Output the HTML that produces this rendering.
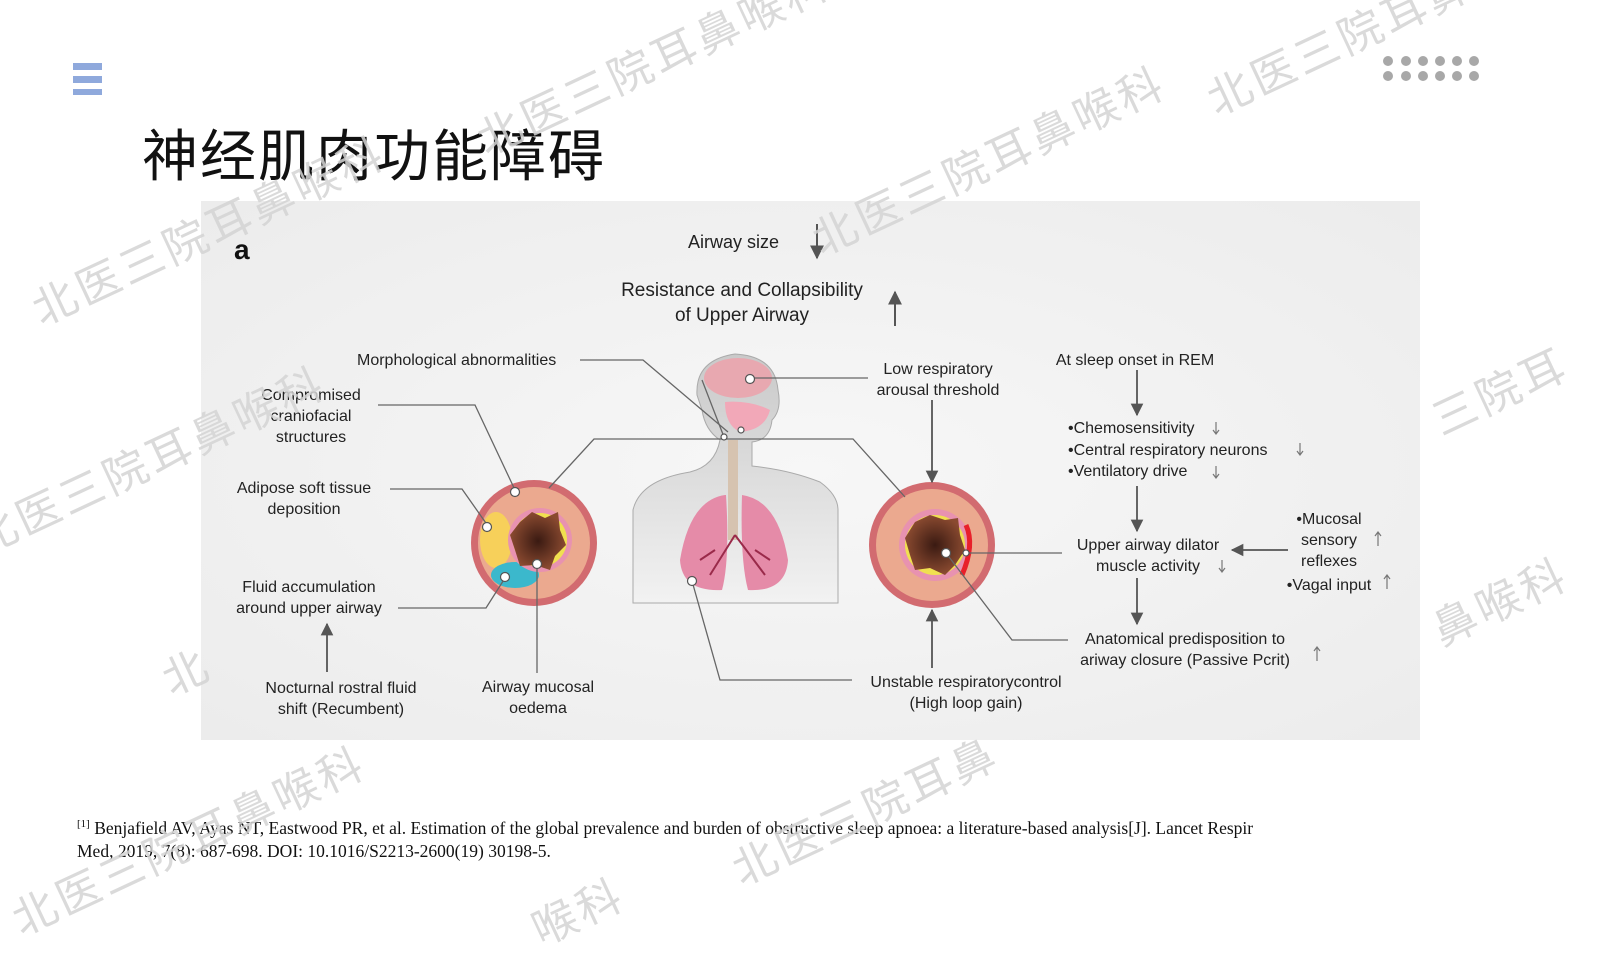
<!DOCTYPE html>
<html><head><meta charset="utf-8"><style>
html,body{margin:0;padding:0;width:1600px;height:900px;overflow:hidden;background:#fff;font-family:"Liberation Sans","Noto Sans CJK SC",sans-serif}
.wm{position:absolute;color:#d4d4d4;font-size:44px;transform:rotate(-25deg);transform-origin:left top;white-space:nowrap;font-family:"Noto Sans CJK SC",sans-serif;letter-spacing:4px;z-index:3;opacity:.85}
</style></head><body>
<div style="position:absolute;left:73px;top:63px;width:29px;height:7px;background:#8fa9dc"></div>
<div style="position:absolute;left:73px;top:76px;width:29px;height:7px;background:#8fa9dc"></div>
<div style="position:absolute;left:73px;top:89px;width:29px;height:6px;background:#8fa9dc"></div>
<svg style="position:absolute;left:1380px;top:55px" width="110" height="30">
<g fill="#a8a8a8">
<circle cx="8" cy="6" r="5"/><circle cx="26" cy="6" r="5"/><circle cx="43" cy="6" r="5"/><circle cx="60" cy="6" r="5"/><circle cx="77" cy="6" r="5"/><circle cx="94" cy="6" r="5"/>
<circle cx="8" cy="21" r="5"/><circle cx="26" cy="21" r="5"/><circle cx="43" cy="21" r="5"/><circle cx="60" cy="21" r="5"/><circle cx="77" cy="21" r="5"/><circle cx="94" cy="21" r="5"/>
</g></svg>
<div style="position:absolute;left:142px;top:112px;font-size:56px;color:#111;font-family:'Noto Sans CJK SC',sans-serif;letter-spacing:2px">神经肌肉功能障碍</div>

<svg style="position:absolute;left:0;top:0" width="1600" height="900" font-family="Liberation Sans, sans-serif" font-size="16" fill="#222">
<defs>
<radialGradient id="bg" cx="0.5" cy="0.5" r="0.7"><stop offset="0" stop-color="#f7f7f7"/><stop offset="1" stop-color="#ececec"/></radialGradient>
<radialGradient id="lum" cx="0.5" cy="0.5" r="0.5"><stop offset="0" stop-color="#3a1a12"/><stop offset="1" stop-color="#8a4a30"/></radialGradient>
<linearGradient id="body" x1="0" y1="0" x2="0" y2="1"><stop offset="0" stop-color="#c9c9c9"/><stop offset="1" stop-color="#f2f2f2"/></linearGradient>
<marker id="ar" viewBox="0 0 10 10" refX="9" refY="5" markerWidth="7" markerHeight="7" orient="auto"><path d="M0,0 L10,5 L0,10 z" fill="#555"/></marker>
</defs>
<rect x="201" y="201" width="1219" height="539" fill="url(#bg)"/>
<text x="234" y="259" font-size="28" font-weight="bold" fill="#111">a</text>
<text x="688" y="248" font-size="18">Airway size</text>
<line x1="817" y1="224" x2="817" y2="258" stroke="#555" stroke-width="2" marker-end="url(#ar)"/>
<text x="742" y="296" font-size="19" text-anchor="middle">Resistance and Collapsibility</text>
<text x="742" y="321" font-size="19" text-anchor="middle">of Upper Airway</text>
<line x1="895" y1="326" x2="895" y2="292" stroke="#555" stroke-width="2" marker-end="url(#ar)"/>

<path d="M633,603 L633,510 Q640,480 690,472 Q715,466 720,440 Q705,430 702,410 L697,395 Q695,360 735,354 Q775,356 778,390 Q782,410 772,420 Q770,440 752,442 L752,466 Q790,470 820,482 Q838,495 838,510 L838,603 Z" fill="url(#body)" stroke="#aaa"/>
<ellipse cx="738" cy="378" rx="34" ry="20" fill="#e8a8b0"/>
<path d="M725,402 Q750,400 770,410 Q765,430 740,432 Q725,425 725,402Z" fill="#f2a8b8"/>
<rect x="728" y="440" width="10" height="100" fill="#d6c3b0"/>
<path d="M725,495 Q690,500 680,560 Q682,592 722,590 Q730,560 726,495Z" fill="#e58ba8"/>
<path d="M742,495 Q778,500 788,560 Q786,592 748,590 Q740,560 742,495Z" fill="#e58ba8"/>
<path d="M735,535 L710,575 M735,535 L765,575 M715,550 L700,560 M755,550 L770,560" stroke="#9a2a4a" stroke-width="2"/>

<circle cx="534" cy="543" r="63" fill="#d26b70"/>
<circle cx="534" cy="543" r="56" fill="#eba98f"/>
<ellipse cx="496" cy="540" rx="16" ry="28" fill="#f7d05a"/>
<ellipse cx="515" cy="575" rx="24" ry="13" fill="#3bb8cc"/>
<circle cx="540" cy="540" r="32" fill="#e892b0"/>
<circle cx="540" cy="540" r="27" fill="#f0e050"/>
<path d="M520,522 L532,512 L545,518 L558,512 L560,530 L566,545 L555,556 L550,570 L535,565 L520,566 L515,550 L510,535Z" fill="url(#lum)"/>
<circle cx="932" cy="545" r="63" fill="#d26b70"/>
<circle cx="932" cy="545" r="56" fill="#eba98f"/>
<circle cx="935" cy="545" r="36" fill="#e892b0"/>
<circle cx="935" cy="545" r="30" fill="#f0e050"/>
<path d="M915,522 L930,515 L945,520 L958,518 L960,535 L965,550 L955,565 L945,575 L930,568 L915,570 L910,555 L905,538Z" fill="url(#lum)"/>
<path d="M966,525 Q975,545 962,575" stroke="#e8202a" stroke-width="5" fill="none"/>

<g stroke="#666" stroke-width="1.3" fill="none">
<polyline points="580,360 643,360 728,432"/>
<polyline points="378,405 475,405 515,490"/>
<polyline points="390,489 462,489 488,526"/>
<polyline points="398,608 486,608 505,578"/>
<line x1="537" y1="565" x2="537" y2="673"/>
<polyline points="549,488 594,439 853,439 905,497"/>
<line x1="750" y1="378" x2="868" y2="378"/>
<line x1="702" y1="380" x2="724" y2="437"/>
<polyline points="692,581 720,680 852,680"/>
<line x1="966" y1="553" x2="1062" y2="553"/>
<polyline points="946,553 1012,640 1068,640"/>
</g>
<g fill="#fff" stroke="#555" stroke-width="1.2">
<circle cx="515" cy="492" r="4.5"/><circle cx="487" cy="527" r="4.5"/><circle cx="505" cy="577" r="4.5"/><circle cx="537" cy="564" r="4.5"/>
<circle cx="750" cy="379" r="4.5"/><circle cx="741" cy="430" r="3"/><circle cx="724" cy="437" r="3"/><circle cx="692" cy="581" r="4.5"/>
<circle cx="946" cy="553" r="4.5"/><circle cx="966" cy="553" r="3"/>
</g>
<g stroke="#555" stroke-width="1.8" fill="none">
<line x1="932" y1="400" x2="932" y2="482" marker-end="url(#ar)"/>
<line x1="932" y1="668" x2="932" y2="610" marker-end="url(#ar)"/>
<line x1="327" y1="672" x2="327" y2="624" marker-end="url(#ar)"/>
<line x1="1137" y1="370" x2="1137" y2="415" marker-end="url(#ar)"/>
<line x1="1137" y1="486" x2="1137" y2="531" marker-end="url(#ar)"/>
<line x1="1137" y1="578" x2="1137" y2="624" marker-end="url(#ar)"/>
<line x1="1288" y1="550" x2="1232" y2="550" marker-end="url(#ar)"/>
</g>
<g stroke="#777" stroke-width="1.2">
<path d="M1216,422 v12 M1213,430 l3,4 l3,-4" fill="none"/>
<path d="M1300,443 v12 M1297,451 l3,4 l3,-4" fill="none"/>
<path d="M1216,466 v12 M1213,474 l3,4 l3,-4" fill="none"/>
<path d="M1222,560 v12 M1219,568 l3,4 l3,-4" fill="none"/>
<path d="M1378,532 v14 M1375,536 l3,-4 l3,4" fill="none"/>
<path d="M1387,575 v14 M1384,579 l3,-4 l3,4" fill="none"/>
<path d="M1317,647 v14 M1314,651 l3,-4 l3,4" fill="none"/>
</g>
<g font-size="16">
<text x="357" y="365">Morphological abnormalities</text>
<text x="311" y="400" text-anchor="middle">Compromised</text>
<text x="311" y="421" text-anchor="middle">craniofacial</text>
<text x="311" y="442" text-anchor="middle">structures</text>
<text x="304" y="493" text-anchor="middle">Adipose soft tissue</text>
<text x="304" y="514" text-anchor="middle">deposition</text>
<text x="309" y="592" text-anchor="middle">Fluid accumulation</text>
<text x="309" y="613" text-anchor="middle">around upper airway</text>
<text x="341" y="693" text-anchor="middle">Nocturnal rostral fluid</text>
<text x="341" y="714" text-anchor="middle">shift (Recumbent)</text>
<text x="538" y="692" text-anchor="middle">Airway mucosal</text>
<text x="538" y="713" text-anchor="middle">oedema</text>
<text x="938" y="374" text-anchor="middle">Low respiratory</text>
<text x="938" y="395" text-anchor="middle">arousal threshold</text>
<text x="966" y="687" text-anchor="middle">Unstable respiratorycontrol</text>
<text x="966" y="708" text-anchor="middle">(High loop gain)</text>
<text x="1135" y="365" text-anchor="middle">At sleep onset in REM</text>
<text x="1068" y="433">•Chemosensitivity</text>
<text x="1068" y="455">•Central respiratory neurons</text>
<text x="1068" y="476">•Ventilatory drive</text>
<text x="1148" y="550" text-anchor="middle">Upper airway dilator</text>
<text x="1148" y="571" text-anchor="middle">muscle activity</text>
<text x="1329" y="524" text-anchor="middle">•Mucosal</text>
<text x="1329" y="545" text-anchor="middle">sensory</text>
<text x="1329" y="566" text-anchor="middle">reflexes</text>
<text x="1329" y="590" text-anchor="middle">•Vagal input</text>
<text x="1185" y="644" text-anchor="middle">Anatomical predisposition to</text>
<text x="1185" y="665" text-anchor="middle">ariway closure (Passive Pcrit)</text>
</g>
</svg>

<div style="position:absolute;left:77px;top:813px;width:1325px;font-family:'Liberation Serif',serif;font-size:17.5px;line-height:23px;color:#111"><sup style="font-size:11px">[1]</sup> Benjafield AV, Ayas NT, Eastwood PR, et al. Estimation of the global prevalence and burden of obstructive sleep apnoea: a literature-based analysis[J]. Lancet Respir<br>Med, 2019, 7(8): 687-698. DOI: 10.1016/S2213-2600(19) 30198-5.</div>

<div class="wm" style="left:20px;top:280px">北医三院耳鼻喉科</div>
<div class="wm" style="left:465px;top:110px">北医三院耳鼻喉科</div>
<div class="wm" style="left:800px;top:210px">北医三院耳鼻喉科</div>
<div class="wm" style="left:1195px;top:70px">北医三院耳鼻喉科</div>
<div class="wm" style="left:-40px;top:510px">北医三院耳鼻喉科</div>
<div class="wm" style="left:1420px;top:390px">三院耳</div>
<div class="wm" style="left:1420px;top:600px">鼻喉科</div>
<div class="wm" style="left:150px;top:650px">北</div>
<div class="wm" style="left:0px;top:890px">北医三院耳鼻喉科</div>
<div class="wm" style="left:720px;top:840px">北医三院耳鼻</div>
<div class="wm" style="left:520px;top:900px">喉科</div>
</body></html>
